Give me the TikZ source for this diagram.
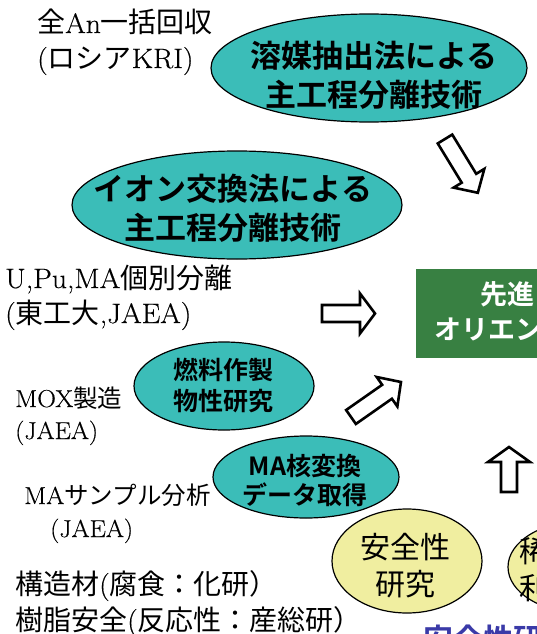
\documentclass[tikz,border=0pt]{standalone}
\usepackage{fontspec}
\usetikzlibrary{shapes.geometric}
\setmainfont{Latin Modern Roman}[FakeStretch=1.06,FakeBold=0.4]
\newfontfamily\jp{Noto Sans CJK JP}
\newfontfamily\jpb{Noto Sans CJK JP Bold}
\definecolor{teal1}{RGB}{59,189,184}
\definecolor{yel}{RGB}{240,238,160}
\definecolor{grn}{RGB}{56,128,66}
\definecolor{blu}{RGB}{58,58,168}
\tikzset{
 ell/.style={ellipse, draw=black, line width=1.2pt, inner sep=0pt},
 tealell/.style={ell, fill=teal1},
 yelell/.style={ell, fill=yel},
 lab/.style={anchor=base west, inner sep=0pt, font=\fontsize{28}{32}\selectfont},
 smlab/.style={lab, font=\fontsize{24.5}{30}\selectfont},
 bigtxt/.style={align=center, inner sep=0pt, font=\jpb\fontsize{31}{39}\selectfont},
 midtxt/.style={align=center, inner sep=0pt, font=\jpb\fontsize{25}{31}\selectfont},
 ytxt/.style={align=center, inner sep=0pt, font=\jp\fontsize{30}{37}\selectfont},
 barr/.style={draw=black, fill=white, line width=2.6pt, miter limit=10},
}
\newcommand\blockarr[6]{%
\draw[barr, shift={(#1)}, rotate=#2] (0,#4) -- ({#3-#6},#4) -- ({#3-#6},#5) -- (#3,0) -- ({#3-#6},-#5) -- ({#3-#6},-#4) -- (0,-#4) -- cycle;}
\begin{document}
\begin{tikzpicture}[x=1pt,y=-1pt]
\useasboundingbox (0,0) rectangle (537,634);
\clip (0,0) rectangle (537,634);
\fill[white] (0,0) rectangle (537,634);
% labels
\node[lab] (l1) at (37,33) {{\jp 全}An{\jp 一括回収}};
\node[lab] (l2) at (37,68) {({\jp ロシア}KRI)};
\node[lab] (l3) at (5,288) {U,Pu,MA{\jp 個別分離}};
\node[lab] (l4) at (5,323) {({\jp 東工大},JAEA)};
\node[smlab] (l5) at (15,407) {MOX{\jp 製造}};
\node[smlab] (l6) at (15,439) {(JAEA)};
\node[smlab] (l7) at (24,504) {MA{\jp サンプル分析}};
\node[smlab] (l8) at (50,537) {(JAEA)};
\node[lab] (l9) at (15,594) {{\jp 構造材}({\jp 腐食：化研）}};
\node[lab] (l10) at (15,630) {{\jp 樹脂安全}({\jp 反応性：産総研）}};
% teal ellipses
\node[tealell, minimum width=316pt, minimum height=108pt] (e1) at (369,68) {};
\node[bigtxt] (t1) at (374,75) {溶媒抽出法による\\主工程分離技術};
\node[tealell, minimum width=330pt, minimum height=108pt] (e2) at (237,205) {};
\node[bigtxt] (t2) at (233,208) {イオン交換法による\\主工程分離技術};
\node[tealell, minimum width=180pt, minimum height=88pt] (e3) at (224,386) {};
\node[midtxt] (t3) at (223,386) {燃料作製\\物性研究};
\node[tealell, minimum width=186pt, minimum height=82pt] (e4) at (306,477) {};
\node[midtxt, font=\jpb\fontsize{25}{29}\selectfont] (t4) at (305,480) {MA核変換\\データ取得};
% yellow ellipses
\node[yelell, minimum width=150pt, minimum height=104pt] (y1) at (407,561) {};
\node[ytxt] (t5) at (405,566) {安全性\\研究};
\node[yelell, minimum width=150pt, minimum height=92pt] (y2) at (583,567) {};
\node[ytxt, anchor=west, align=left] (t6) at (519,570) {稀少\\利用};
% green box
\node[fill=grn, minimum width=150pt, minimum height=89pt, anchor=north west, inner sep=0pt] (g) at (416,269) {};
\node[anchor=west, font=\jpb\fontsize{27}{35}\selectfont, text=white, inner sep=0pt] (g1) at (480,294) {先進};
\node[anchor=west, font=\jpb\fontsize{27}{35}\selectfont, text=white, inner sep=0pt] (g2) at (434,329) {オリエント};
% blue bottom text
\node[anchor=base west, font=\jpb\fontsize{30}{36}\selectfont, text=blu, inner sep=0pt] (b) at (423,650) {安全性研究};
% block arrows
\coordinate (a1t) at (445,139);
\coordinate (a2t) at (322,313.5);
\coordinate (a3t) at (351,417);
\coordinate (a4t) at (509,492);
\blockarr{a1t}{-58.6}{63}{8.5}{18}{17}
\blockarr{a2t}{0}{53}{8.5}{20}{15}
\blockarr{a3t}{35}{61}{8.5}{18}{17}
\blockarr{a4t}{90}{45}{8}{21}{15}
\end{tikzpicture}
\end{document}
